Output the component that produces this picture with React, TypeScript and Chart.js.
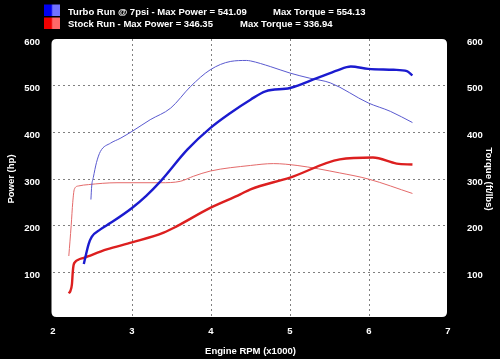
import { useEffect, useRef } from "react";
import { Chart, registerables } from "chart.js";

Chart.register(...registerables);

// ---- data ----
const turboPowerRpm = [2.39, 2.42, 2.45, 2.49, 2.6, 2.73, 3.0, 3.18, 3.36, 3.7, 3.99, 4.25, 4.5, 4.69, 5.0, 5.34, 5.6, 5.77, 5.99, 6.31, 6.48, 6.55];
const turboPowerHp = [118, 140, 160, 176, 192, 206, 238, 264, 295, 363, 409, 442, 470, 488, 495, 516, 533, 541, 536, 534, 531, 522];

const turboTorqueRpm = [2.48, 2.49, 2.51, 2.55, 2.6, 2.73, 2.85, 3.0, 3.23, 3.49, 3.74, 3.99, 4.25, 4.45, 4.5, 4.75, 5.0, 5.25, 5.51, 5.99, 6.27, 6.55];
const turboTorqueFtLbs = [256, 285, 303, 335, 359, 377, 387, 402, 427, 452, 498, 534, 552, 554, 553, 541, 527, 516, 506, 463, 445, 421];

const stockPowerRpm = [2.2, 2.22, 2.24, 2.25, 2.26, 2.28, 2.32, 2.39, 2.68, 3.0, 3.4, 3.57, 3.99, 4.37, 4.5, 5.0, 5.63, 6.05, 6.35, 6.55];
const stockPowerHp = [55, 60, 75, 100, 115, 122, 127, 131, 149, 164, 185, 199, 238, 267, 278, 303, 342, 346, 333, 331];

const stockTorqueRpm = [2.2, 2.23, 2.25, 2.27, 2.32, 2.45, 2.81, 3.36, 3.61, 3.78, 3.99, 4.5, 4.79, 5.09, 5.63, 5.99, 6.55];
const stockTorqueFtLbs = [135, 200, 250, 278, 285, 288, 292, 292, 295, 306, 317, 329, 333, 329, 313, 300, 269];

const legendRunLabels = ["Turbo Run @ 7psi - Max Power = 541.09", "Stock Run - Max Power = 346.35"];
const legendTorqueLabels = ["Max Torque = 554.13", "Max Torque = 336.94"];

const xMin = 2;
const xMax = 7;
const yMin = 0;
const yMax = 600;

const FONT = '"Liberation Sans", Arial, Helvetica, sans-serif';

function pts(xs: number[], ys: number[]) {
  return xs.map((x, i) => ({ x, y: ys[i] }));
}

const bgPlugin = {
  id: "plotBg",
  beforeDraw(chart: any) {
    const { ctx, chartArea } = chart;
    const l = chartArea.left - 1.5;
    const t = chartArea.top;
    const w = chartArea.right - 1 - l;
    const h = chartArea.bottom - 2 - t;
    const r = 5;
    ctx.save();
    ctx.fillStyle = "#ffffff";
    ctx.beginPath();
    ctx.moveTo(l + r, t);
    ctx.lineTo(l + w - r, t);
    ctx.quadraticCurveTo(l + w, t, l + w, t + r);
    ctx.lineTo(l + w, t + h - r);
    ctx.quadraticCurveTo(l + w, t + h, l + w - r, t + h);
    ctx.lineTo(l + r, t + h);
    ctx.quadraticCurveTo(l, t + h, l, t + h - r);
    ctx.lineTo(l, t + r);
    ctx.quadraticCurveTo(l, t, l + r, t);
    ctx.closePath();
    ctx.fill();
    ctx.restore();
  },
};

const legendPlugin = {
  id: "topLegend",
  afterDraw(chart: any) {
    const { ctx } = chart;
    ctx.save();
    const rows = [
      { y: 12, boxY: 4.5, c0: "#0000f0", c1: "#7272ff", torqueX: 273 },
      { y: 24, boxY: 17.5, c0: "#f00000", c1: "#ff6868", torqueX: 240 },
    ];
    rows.forEach((row, i) => {
      const g = ctx.createLinearGradient(44, 0, 60, 0);
      g.addColorStop(0, row.c0);
      g.addColorStop(0.45, row.c0);
      g.addColorStop(0.55, row.c1);
      g.addColorStop(1, row.c1);
      ctx.fillStyle = g;
      ctx.fillRect(44, row.boxY, 16, 11.5);
      ctx.fillStyle = "#ffffff";
      ctx.font = `bold 9.5px ${FONT}`;
      ctx.textBaseline = "middle";
      ctx.textAlign = "left";
      ctx.fillText(legendRunLabels[i], 68, row.y);
      ctx.fillText(legendTorqueLabels[i], row.torqueX, row.y);
    });
    ctx.restore();
  },
};

export default function App() {
  const ref = useRef<HTMLCanvasElement | null>(null);

  useEffect(() => {
    if (!ref.current) return;
    const tickFont = { family: FONT, size: 9.5, weight: "bold" as const };
    const gridColor = (c: any) =>
      c.tick && (c.tick.value === yMin || c.tick.value === yMax) ? "rgba(0,0,0,0)" : "#808080";
    const xGridColor = (c: any) =>
      c.tick && (c.tick.value === xMin || c.tick.value === xMax) ? "rgba(0,0,0,0)" : "#808080";

    const chart = new Chart(ref.current, {
      type: "line",
      data: {
        datasets: [
          {
            label: "Turbo Power",
            data: pts(turboPowerRpm, turboPowerHp),
            borderColor: "#1b1bcf",
            borderWidth: 2.4,
            yAxisID: "y",
          },
          {
            label: "Turbo Torque",
            data: pts(turboTorqueRpm, turboTorqueFtLbs),
            borderColor: "#5a5ad0",
            borderWidth: 1,
            yAxisID: "y2",
          },
          {
            label: "Stock Power",
            data: pts(stockPowerRpm, stockPowerHp),
            borderColor: "#dc1f1f",
            borderWidth: 2.4,
            yAxisID: "y",
          },
          {
            label: "Stock Torque",
            data: pts(stockTorqueRpm, stockTorqueFtLbs),
            borderColor: "#e46a6a",
            borderWidth: 1,
            yAxisID: "y2",
          },
        ],
      },
      options: {
        animation: false,
        responsive: false,
        devicePixelRatio: 1,
        layout: { padding: { top: 39, left: 0, right: 0, bottom: 0 } },
        elements: {
          point: { radius: 0 },
          line: { cubicInterpolationMode: "monotone", fill: false },
        },
        plugins: { legend: { display: false }, tooltip: { enabled: false } },
        scales: {
          x: {
            type: "linear",
            min: xMin,
            max: xMax,
            ticks: { stepSize: 1, color: "#ffffff", font: tickFont, padding: 7, maxRotation: 0 },
            grid: { color: xGridColor, lineWidth: 1, drawTicks: false },
            border: { display: false, dash: [2, 3] },
            title: {
              display: true,
              text: "Engine RPM (x1000)",
              color: "#ffffff",
              font: tickFont,
              padding: { top: 0, bottom: 1.5 },
            },
            afterFit: (s: any) => {
              s.height = 40;
            },
          },
          y: {
            type: "linear",
            position: "left",
            min: yMin,
            max: yMax,
            ticks: {
              stepSize: 100,
              color: "#ffffff",
              font: tickFont,
              padding: 13,
              labelOffset: 3,
              callback: (v: any) => (v === yMin ? "" : String(v)),
            },
            grid: { color: gridColor, lineWidth: 1, drawTicks: false },
            border: { display: false, dash: [2, 3] },
            title: {
              display: true,
              text: "Power (hp)",
              color: "#ffffff",
              font: tickFont,
              padding: { top: 6, bottom: 0 },
            },
            afterFit: (s: any) => {
              s.width = 53;
            },
          },
          y2: {
            type: "linear",
            position: "right",
            min: yMin,
            max: yMax,
            ticks: {
              stepSize: 100,
              color: "#ffffff",
              font: tickFont,
              padding: 19,
              labelOffset: 3,
              callback: (v: any) => (v === yMin ? "" : String(v)),
            },
            grid: { display: false, drawTicks: false },
            border: { display: false },
            title: {
              display: true,
              text: "Torque (ft/lbs)",
              color: "#ffffff",
              font: tickFont,
              padding: { top: 6, bottom: 0 },
            },
            afterFit: (s: any) => {
              s.width = 52;
            },
          },
        },
      } as any,
      plugins: [bgPlugin, legendPlugin],
    });
    return () => chart.destroy();
  }, []);

  return (
    <div
      style={{
        position: "fixed",
        left: 0,
        top: 0,
        width: 500,
        height: 359,
        background: "#000000",
      }}
    >
      <canvas ref={ref} width={500} height={359} style={{ display: "block", width: 500, height: 359 }} />
    </div>
  );
}
